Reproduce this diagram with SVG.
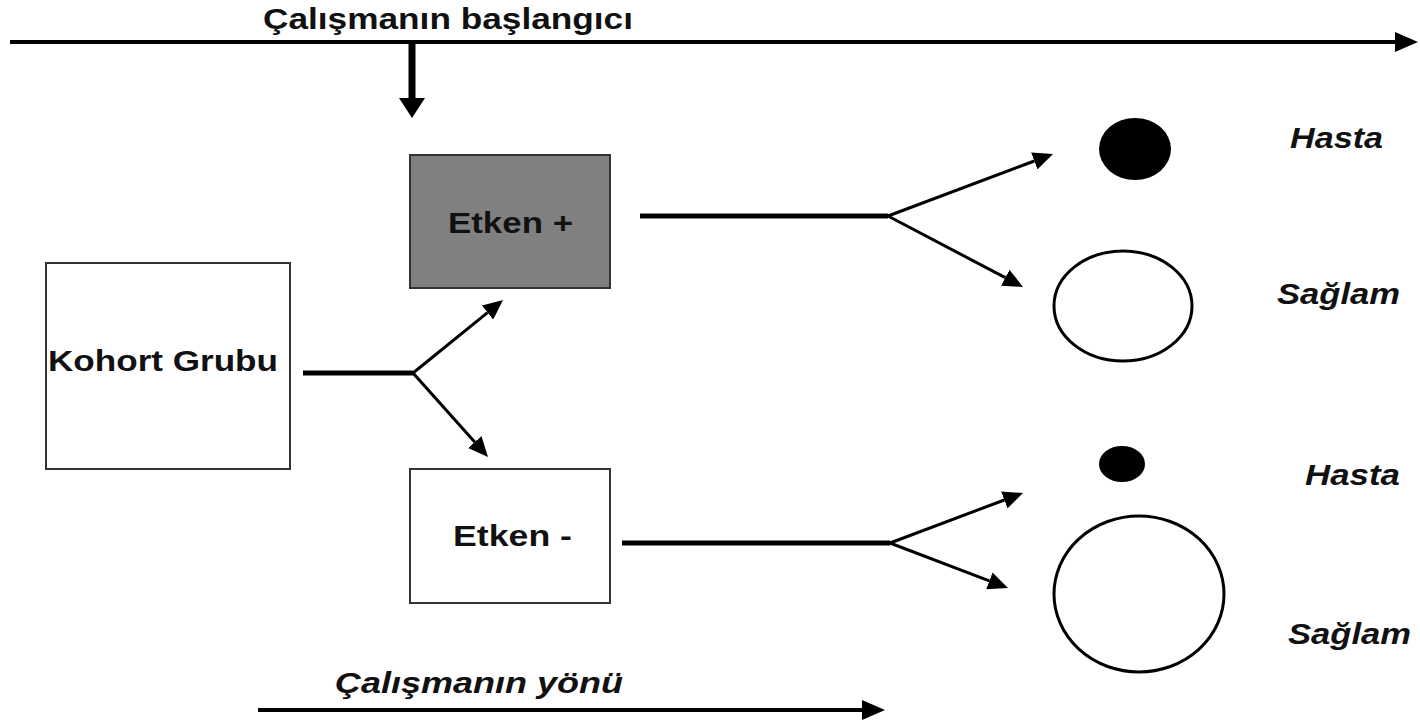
<svg xmlns="http://www.w3.org/2000/svg" width="1420" height="724" viewBox="0 0 1420 724">
<style>
.t{font-family:"Liberation Sans",Arial,sans-serif;font-weight:bold;font-size:29px;fill:#111}
.i{font-style:italic}
.box{stroke:#333;stroke-width:2}
.ln{stroke:#000;fill:none}
</style>
<defs>
<marker id="ah" markerUnits="userSpaceOnUse" markerWidth="20" markerHeight="18" refX="0" refY="9" orient="auto" viewBox="0 0 20 18"><path d="M0,0 L20,9 L0,18 z" fill="#000"/></marker>
<marker id="ahBig" markerUnits="userSpaceOnUse" markerWidth="23" markerHeight="20" refX="0" refY="10" orient="auto" viewBox="0 0 23 20"><path d="M0,0 L23,10 L0,20 z" fill="#000"/></marker>
<marker id="ahDown" markerUnits="userSpaceOnUse" markerWidth="20" markerHeight="26" refX="0" refY="13" orient="auto" viewBox="0 0 20 26"><path d="M0,0 L20,13 L0,26 z" fill="#000"/></marker>
</defs>
<rect width="1420" height="724" fill="#fff"/>
<text class="t" x="263" y="29" font-size="27" textLength="370" lengthAdjust="spacingAndGlyphs">Çalışmanın başlangıcı</text>
<g id="connectors">
<line class="ln" x1="10" y1="42" x2="1395" y2="42" stroke-width="4" marker-end="url(#ahBig)"/>
<line class="ln" x1="412" y1="42" x2="412" y2="98" stroke-width="7" marker-end="url(#ahDown)"/>
<line class="ln" x1="303" y1="373" x2="413" y2="373" stroke-width="5"/>
<line class="ln" x1="413" y1="373" x2="487.5" y2="312.6" stroke-width="3" marker-end="url(#ah)"/>
<line class="ln" x1="413" y1="373" x2="474.7" y2="442.1" stroke-width="3" marker-end="url(#ah)"/>
<line class="ln" x1="640" y1="216" x2="888" y2="216" stroke-width="5"/>
<line class="ln" x1="888" y1="216" x2="1034.3" y2="161" stroke-width="3" marker-end="url(#ah)"/>
<line class="ln" x1="888" y1="216" x2="1005.3" y2="277.7" stroke-width="3" marker-end="url(#ah)"/>
<line class="ln" x1="622" y1="543" x2="890" y2="543" stroke-width="5"/>
<line class="ln" x1="890" y1="543" x2="1004.3" y2="500" stroke-width="3" marker-end="url(#ah)"/>
<line class="ln" x1="890" y1="543" x2="989.3" y2="580.9" stroke-width="3" marker-end="url(#ah)"/>
<line class="ln" x1="258" y1="710" x2="862" y2="710" stroke-width="4" marker-end="url(#ahBig)"/>
</g>
<g id="kohort">
<rect class="box" x="46" y="263" width="244" height="206" fill="#fff"/>
<text class="t" x="48" y="371" textLength="230" lengthAdjust="spacingAndGlyphs">Kohort Grubu</text>
</g>
<g id="etken-plus">
<rect class="box" x="410" y="155" width="200" height="133" fill="#808080"/>
<text class="t" x="448" y="233" textLength="125" lengthAdjust="spacingAndGlyphs">Etken +</text>
</g>
<g id="etken-minus">
<rect class="box" x="410" y="469" width="200" height="134" fill="#fff"/>
<text class="t" x="453" y="546" textLength="119" lengthAdjust="spacingAndGlyphs">Etken -</text>
</g>
<g id="hasta-1">
<ellipse cx="1135" cy="149" rx="36" ry="31" fill="#000"/>
<text class="t i" x="1290" y="148" textLength="93" lengthAdjust="spacingAndGlyphs">Hasta</text>
</g>
<g id="saglam-1">
<ellipse cx="1123" cy="306" rx="69" ry="55" fill="#fff" stroke="#000" stroke-width="3"/>
<text class="t i" x="1277" y="304" textLength="123" lengthAdjust="spacingAndGlyphs">Sağlam</text>
</g>
<g id="hasta-2">
<ellipse cx="1122" cy="464" rx="23" ry="18" fill="#000"/>
<text class="t i" x="1305" y="485" textLength="95" lengthAdjust="spacingAndGlyphs">Hasta</text>
</g>
<g id="saglam-2">
<ellipse cx="1139" cy="594" rx="85" ry="78" fill="#fff" stroke="#000" stroke-width="3"/>
<text class="t i" x="1288" y="644" textLength="123" lengthAdjust="spacingAndGlyphs">Sağlam</text>
</g>
<text class="t i" x="335" y="693" textLength="288" lengthAdjust="spacingAndGlyphs">Çalışmanın yönü</text>
</svg>
